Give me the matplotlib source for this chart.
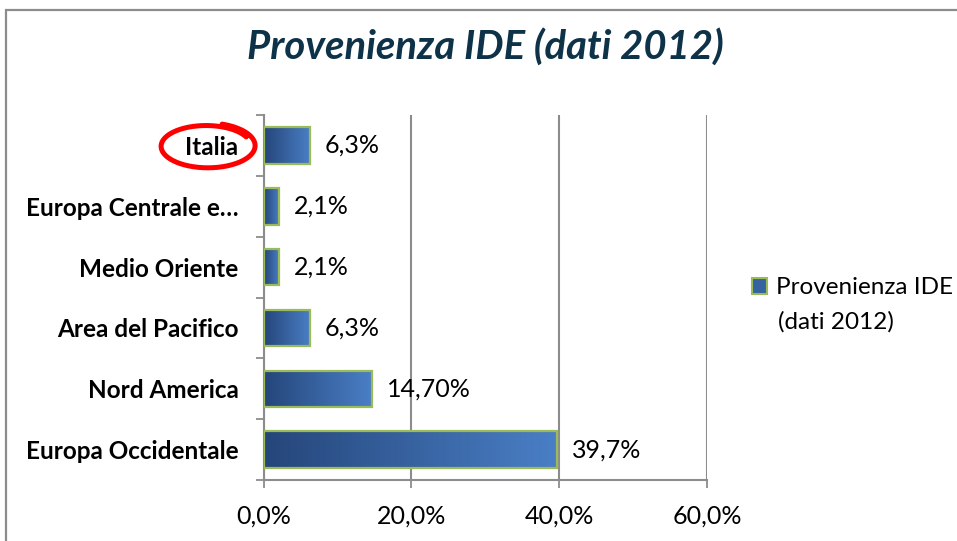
import numpy as np
import matplotlib
matplotlib.use("Agg")
from matplotlib import pyplot as plt
from matplotlib.colors import LinearSegmentedColormap
from matplotlib.patches import Patch, Rectangle

plt.rcParams['font.family'] = ['Lato', 'DejaVu Sans']

# data, top to bottom as shown
categories = ["Italia", "Europa Centrale e…", "Medio Oriente",
              "Area del Pacifico", "Nord America", "Europa Occidentale"]
values = [6.3, 2.1, 2.1, 6.3, 14.7, 39.7]
value_labels = ["6,3%", "2,1%", "2,1%", "6,3%", "14,70%", "39,7%"]
x_ticks = [0, 20, 40, 60]
x_tick_labels = ["0,0%", "20,0%", "40,0%", "60,0%"]
title = "Provenienza IDE (dati 2012)"
series_name = "Provenienza IDE"

W, H = 957, 541
fig = plt.figure(figsize=(W / 100, H / 100), dpi=100)
ax = fig.add_axes([263.5 / W, 1 - 480 / H, (707.3 - 263.5) / W, (480 - 115) / H])

bar_cmap = LinearSegmentedColormap.from_list("bar", ["#25467a", "#4a7fc6"])
grad = np.linspace(0, 1, 256).reshape(1, -1)
ypos = np.arange(len(categories))
bar_h = 0.6

for y, v in zip(ypos, values):
    ax.imshow(grad, extent=[0, v, y + bar_h / 2, y - bar_h / 2], aspect='auto',
              cmap=bar_cmap, zorder=3, interpolation='bilinear')
ax.barh(ypos, values, height=bar_h, fill=False, edgecolor="#9bbb59",
        linewidth=1.6, zorder=4)

for y, v, lab in zip(ypos, values, value_labels):
    ax.annotate(lab, (v, y), xytext=(15, 0), textcoords='offset pixels',
                va='center', ha='left', fontsize=18, color='black')

ax.set_xlim(0, 60)
ax.set_ylim(len(categories) - 0.5, -0.5)

ax.set_xticks(x_ticks)
ax.set_xticklabels(x_tick_labels, fontsize=18)
ax.tick_params(axis='x', length=6, width=1.3, color='#8c8c8c', pad=12)
ax.grid(axis='x', color='#8c8c8c', linewidth=1.5, zorder=0)
ax.set_axisbelow(True)

ax.set_yticks(ypos)
ax.set_yticklabels(categories, fontsize=17.5, fontweight='bold')
ax.set_yticks(np.arange(len(categories) + 1) - 0.5, minor=True)
ax.tick_params(axis='y', which='major', length=0, pad=18)
ax.tick_params(axis='y', which='minor', length=6, width=1.3, color='#8c8c8c')

for s in ['top', 'right']:
    ax.spines[s].set_visible(False)
for s in ['left', 'bottom']:
    ax.spines[s].set_color('#8c8c8c')
    ax.spines[s].set_linewidth(1.5)

fig.text(485 / W, 1 - 47 / H, title, ha='center', va='center', fontsize=28.8,
         fontweight='bold', fontstyle='italic', color='#0e3349')

handle = Patch(facecolor="#3563a0", edgecolor="#9bbb59", linewidth=1.5)
fig.legend([handle], [series_name], loc='center left',
           bbox_to_anchor=(752 / W, 1 - 288 / H), frameon=False,
           fontsize=17.5, handlelength=0.6, handleheight=0.6,
           handletextpad=0.4, borderpad=0, borderaxespad=0)
fig.text(778 / W, 1 - 322 / H, "(dati 2012)", ha='left', va='center',
         fontsize=17.5)

# chart frame (left and top edges visible)
fig.patches.append(Rectangle((6 / W, -0.1), 1.2, 1 - 10 / H + 0.1,
                             transform=fig.transFigure, fill=False,
                             edgecolor='#8c8c8c', linewidth=1.6))

# red hand-drawn circle around "Italia"
t = np.linspace(0.15 * np.pi, 2.4 * np.pi, 200)
rx = 44 + 5 * (t - t[0]) / (t[-1] - t[0])
ry = 20 + 3 * (t - t[0]) / (t[-1] - t[0])
cx, cy = 207, 146
px = cx + rx * np.cos(t)
py = cy - ry * np.sin(t)
fig.add_artist(plt.Line2D(px / W, 1 - py / H, transform=fig.transFigure,
                          color='#ff0000', linewidth=3.6,
                          solid_capstyle='round'))

fig.savefig("out.png", dpi=100)
